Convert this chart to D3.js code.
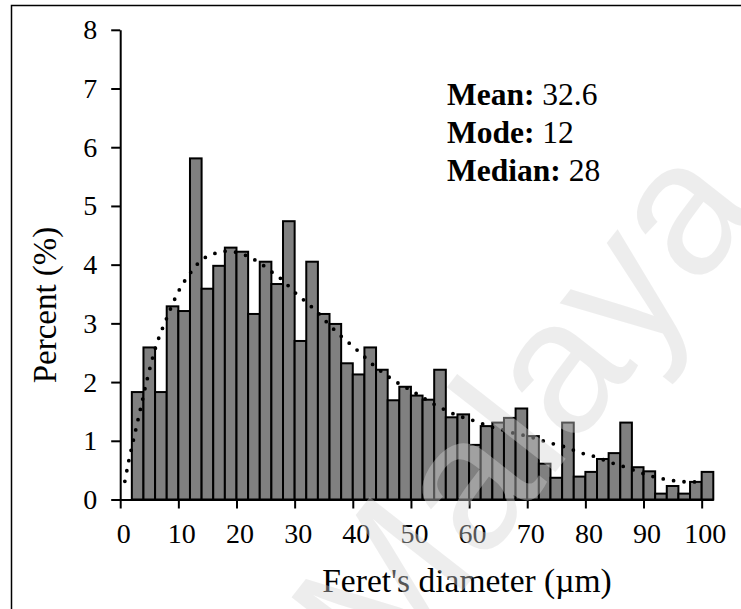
<!DOCTYPE html>
<html>
<head>
<meta charset="utf-8">
<script src="https://cdn.jsdelivr.net/npm/d3@7/dist/d3.min.js"></script>
<style>
  body { margin: 0; background: #fff; }
  svg { display: block; }
  text { font-family: "Liberation Serif", "Times New Roman", serif; fill: #000; }
</style>
</head>
<body>
<svg id="chart"></svg>
<script>
// histogram bins (lower edge, µm) and their share of particles (%)
const binStarts = [2, 4, 6, 8, 10, 12, 14, 16, 18, 20,
  22, 24, 26, 28, 30, 32, 34, 36, 38, 40,
  42, 44, 46, 48, 50, 52, 54, 56, 58, 60,
  62, 64, 66, 68, 70, 72, 74, 76, 78, 80,
  82, 84, 86, 88, 90, 92, 94, 96, 98, 100];
const binWidth = 2;
const percent = [1.83, 2.59, 1.83, 3.29, 3.21, 5.81, 3.59, 3.98, 4.29, 4.22,
  3.16, 4.05, 3.67, 4.74, 2.70, 4.05, 3.16, 2.99, 2.32, 2.13,
  2.59, 2.21, 1.69, 1.92, 1.77, 1.70, 2.21, 1.40, 1.45, 0.93,
  1.25, 1.31, 1.39, 1.55, 1.08, 0.61, 0.37, 1.31, 0.39, 0.47,
  0.69, 0.79, 1.31, 0.55, 0.48, 0.10, 0.23, 0.10, 0.30, 0.47];

// fitted distribution curve
const fitX = [0.8, 1.5, 2.5, 3.5, 4.5, 6, 8, 10, 12, 14, 16, 18, 20, 22, 24, 26, 28, 30,
  32, 34, 36, 38, 40, 42, 44, 46, 48, 50, 52, 54, 56, 58, 60, 62, 64, 66, 68, 70,
  72, 74, 76, 78, 80, 82, 84, 86, 88, 90, 92, 94, 96, 98, 100];
const fitY = [0.31, 0.67, 1.11, 1.55, 1.99, 2.56, 3.09, 3.54, 3.85, 4.08, 4.18, 4.23, 4.21, 4.14, 4.03, 3.88, 3.73, 3.53,
  3.36, 3.18, 2.97, 2.78, 2.61, 2.43, 2.25, 2.10, 1.97, 1.86, 1.74, 1.62, 1.52, 1.43, 1.37, 1.30, 1.23, 1.18, 1.12, 1.08,
  1.02, 0.96, 0.91, 0.84, 0.77, 0.72, 0.64, 0.58, 0.51, 0.44, 0.38, 0.34, 0.31, 0.30, 0.30];

const yTicks = [0, 1, 2, 3, 4, 5, 6, 7, 8];
const xTicks = [0, 10, 20, 30, 40, 50, 60, 70, 80, 90, 100];

const stats = [
  { label: 'Mean:', value: '32.6' },
  { label: 'Mode:', value: '12' },
  { label: 'Median:', value: '28' }
];

const width = 741, height = 609;

const svg = d3.select('#chart')
  .attr('width', width)
  .attr('height', height);

// page frame
svg.append('path')
  .attr('d', 'M11.5,609V5.5H741')
  .attr('fill', 'none')
  .attr('stroke', '#000')
  .attr('stroke-width', 1.5);

const x = d3.scaleLinear().domain([0, 102]).range([120.2, 713.3]);
const y = d3.scaleLinear().domain([0, 8]).range([499.5, 29.8]);

// bars
svg.append('g')
  .selectAll('rect')
  .data(binStarts)
  .join('rect')
  .attr('x', d => x(d))
  .attr('width', d => x(d + binWidth) - x(d))
  .attr('y', (d, i) => y(percent[i]))
  .attr('height', (d, i) => y(0) - y(percent[i]))
  .attr('fill', '#808080')
  .attr('stroke', '#000')
  .attr('stroke-width', 2);

// fitted curve, drawn as round dots
const line = d3.line()
  .x((d, i) => x(d))
  .y((d, i) => y(fitY[i]))
  .curve(d3.curveMonotoneX);

svg.append('path')
  .attr('d', line(fitX))
  .attr('fill', 'none')
  .attr('stroke', '#000')
  .attr('stroke-width', 3.8)
  .attr('stroke-linecap', 'round')
  .attr('stroke-dasharray', '0 10.5');

// axes
const yAxis = svg.append('g')
  .attr('transform', `translate(${x(0)},0)`)
  .call(d3.axisLeft(y).tickValues(yTicks).tickFormat(d3.format('d'))
    .tickSize(9).tickSizeOuter(0).tickPadding(14));

const xAxis = svg.append('g')
  .attr('transform', `translate(0,${y(0)})`)
  .call(d3.axisBottom(x).tickValues(xTicks).tickFormat(d3.format('d'))
    .tickSize(9).tickSizeOuter(0).tickPadding(15));

[yAxis, xAxis].forEach(a => {
  a.select('.domain').attr('stroke-width', 2);
  a.selectAll('.tick line').attr('stroke-width', 2);
  a.selectAll('.tick text')
    .style('font-family', '"Liberation Serif", "Times New Roman", serif')
    .style('font-size', '28px')
    .style('fill', '#000');
});
xAxis.selectAll('.tick text').attr('dx', 3);

// axis titles
svg.append('text')
  .attr('transform', 'translate(56,305) rotate(-90)')
  .attr('text-anchor', 'middle')
  .style('font-size', '33px')
  .text('Percent (%)');

svg.append('text')
  .attr('x', 467)
  .attr('y', 592)
  .attr('text-anchor', 'middle')
  .style('font-size', '33.5px')
  .text("Feret's diameter (µm)");

// summary statistics
const statText = svg.append('text')
  .attr('x', 447)
  .attr('y', 105)
  .style('font-size', '31.5px');

stats.forEach((s, i) => {
  statText.append('tspan')
    .attr('x', 447)
    .attr('dy', i === 0 ? 0 : 37.8)
    .style('font-weight', 'bold')
    .text(s.label);
  statText.append('tspan')
    .text(' ' + s.value);
});

// faint watermark over the plot
svg.append('text')
  .attr('transform', 'translate(385,690) rotate(-52)')
  .style('font-family', '"Liberation Sans", Arial, sans-serif')
  .style('font-size', '190px')
  .style('fill', '#d4d4d4')
  .style('opacity', 0.4)
  .text('Malaya');
</script>
</body>
</html>
